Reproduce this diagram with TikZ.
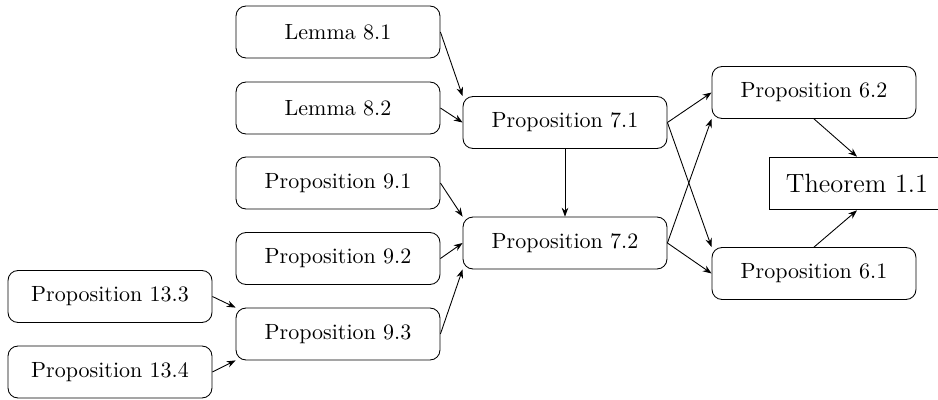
\documentclass[tikz,border=0pt]{standalone}
\usetikzlibrary{arrows.meta}
\begin{document}
\begin{tikzpicture}[x=0.4545pt,y=-0.4545pt,
  pbox/.style={draw,rounded corners=4.5pt,minimum width=92.7pt,minimum height=23.6pt,inner sep=0pt},
  tbox/.style={draw,minimum width=80pt,minimum height=24pt,inner sep=0pt,font=\large},
  arr/.style={-{Stealth[length=4pt,width=3pt]}}]
\useasboundingbox (0,0) rectangle (938,400);
\node[pbox] (L81) at (338,32) {Lemma 8.1};
\node[pbox] (L82) at (338,108) {Lemma 8.2};
\node[pbox] (P91) at (338,183) {Proposition 9.1};
\node[pbox] (P92) at (338,258.5) {Proposition 9.2};
\node[pbox] (P93) at (338,334) {Proposition 9.3};
\node[pbox] (P133) at (110,296.5) {Proposition 13.3};
\node[pbox] (P134) at (110,372) {Proposition 13.4};
\node[pbox] (P71) at (565,122.5) {Proposition 7.1};
\node[pbox] (P72) at (565,243) {Proposition 7.2};
\node[pbox] (P62) at (814,92.5) {Proposition 6.2};
\node[pbox] (P61) at (814,273.5) {Proposition 6.1};
\node[tbox] (T) at (857,183.5) {Theorem 1.1};
\draw[arr] (L81.east) -- (P71.north west);
\draw[arr] (L82.east) -- (P71.west);
\draw[arr] (P91.east) -- (P72.north west);
\draw[arr] (P92.east) -- (P72.west);
\draw[arr] (P93.east) -- (P72.south west);
\draw[arr] (P133.east) -- (P93.north west);
\draw[arr] (P134.east) -- (P93.south west);
\draw[arr] (P71.south) -- (P72.north);
\draw[arr] (P71.east) -- (P62.west);
\draw[arr] (P71.east) -- (P61.north west);
\draw[arr] (P72.east) -- (P62.south west);
\draw[arr] (P72.east) -- (P61.west);
\draw[arr] (P62.south) -- (T.north);
\draw[arr] (P61.north) -- (T.south);
\end{tikzpicture}
\end{document}
